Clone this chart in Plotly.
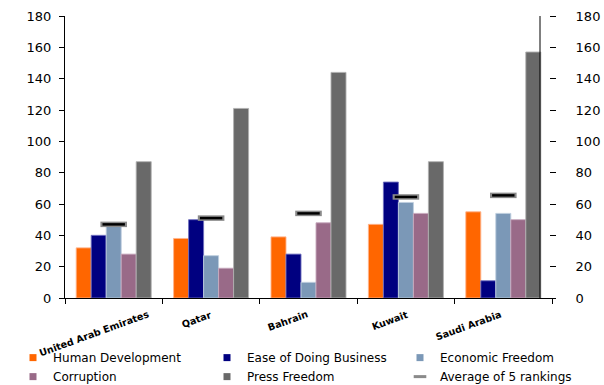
import plotly.graph_objects as go

countries = ["United Arab Emirates", "Qatar", "Bahrain", "Kuwait", "Saudi Arabia"]
human_development = [32, 38, 39, 47, 55]
ease_of_business = [40, 50, 28, 74, 11]
economic_freedom = [47, 27, 10, 61, 54]
corruption = [28, 19, 48, 54, 50]
press_freedom = [87, 121, 144, 87, 157]
average_rankings = [47, 51, 54, 64.5, 65.5]

y_ticks = [0, 20, 40, 60, 80, 100, 120, 140, 160, 180]

series = [
    ("Human Development", human_development, "#FF6600", "rgba(255,180,140,0.9)", "legend"),
    ("Ease of Doing Business", ease_of_business, "#000080", "rgba(110,110,190,0.9)", "legend2"),
    ("Economic Freedom", economic_freedom, "#7B98B7", "rgba(190,205,222,0.9)", "legend3"),
    ("Corruption", corruption, "#996A88", "rgba(200,170,190,0.9)", "legend"),
    ("Press Freedom", press_freedom, "#696969", "rgba(175,175,175,0.9)", "legend2"),
]

FONT = "DejaVu Sans, Verdana, sans-serif"

fig = go.Figure()
for name, vals, col, edge, lg in series:
    fig.add_trace(go.Bar(
        x=countries, y=vals, name=name, showlegend=False, legendgroup=name,
        marker=dict(color=col, line=dict(color=edge, width=1)),
    ))

# average markers (gray border + black core)
fig.add_trace(go.Scatter(
    x=countries, y=average_rankings, mode="markers", showlegend=False,
    legendgroup="avg", yaxis="y2",
    marker=dict(symbol="line-ew", size=19, line=dict(color="#8a8a8a", width=5.5)),
))
fig.add_trace(go.Scatter(
    x=countries, y=average_rankings, mode="markers", showlegend=False,
    legendgroup="avg", yaxis="y2",
    marker=dict(symbol="line-ew", size=16, line=dict(color="#000000", width=2.5)),
))

# legend proxies
for name, vals, col, edge, lg in series:
    fig.add_trace(go.Scatter(
        x=[None], y=[None], mode="markers", name=name, legendgroup=name, legend=lg,
        marker=dict(symbol="square", size=7, color=col, line=dict(width=0)),
    ))
fig.add_trace(go.Scatter(
    x=[None], y=[None], mode="markers", name="Average of 5 rankings",
    legendgroup="avg", legend="legend3",
    marker=dict(symbol="line-ew", size=9, line=dict(color="#8a8a8a", width=3)),
))

annotations = []
shifts = [39, 4, 4, 6, 2]
for c, s in zip(countries, shifts):
    annotations.append(dict(
        x=c, xref="x", y=0, yref="paper", yshift=-8, xshift=s,
        text=c, showarrow=False, textangle=-20,
        xanchor="right", yanchor="top",
        font=dict(family=FONT, size=9.6, color="#000000", weight="bold"),
    ))

leg_common = dict(
    orientation="v", xanchor="left", yanchor="top", y=-0.16,
    font=dict(family=FONT, size=12, color="#000000"),
    bgcolor="rgba(0,0,0,0)", borderwidth=0, traceorder="normal",
)

fig.update_layout(
    width=604, height=385,
    margin=dict(l=65, r=52, t=16, b=87, autoexpand=False),
    paper_bgcolor="#FFFFFF", plot_bgcolor="#FFFFFF",
    barmode="group", bargap=0.23, bargroupgap=0,
    font=dict(family=FONT, size=13, color="#000000"),
    xaxis=dict(
        type="category", range=[-0.5, 4.5], showgrid=False, zeroline=False,
        showline=True, linecolor="#000000", linewidth=1,
        ticks="outside", ticklen=5, tickcolor="#000000", tickson="boundaries",
        showticklabels=False,
    ),
    yaxis=dict(
        range=[0, 180], tickvals=y_ticks, showgrid=False, zeroline=False,
        showline=True, linecolor="#000000", linewidth=1,
        ticks="outside", ticklen=5, tickcolor="#000000",
        tickfont=dict(family=FONT, size=13, color="#000000"),
        ticklabelstandoff=5,
    ),
    yaxis2=dict(
        range=[0, 180], tickvals=y_ticks, overlaying="y", side="right",
        anchor="free", position=(549 - 65) / 487,
        showgrid=False, zeroline=False, showline=False,
        ticks="outside", ticklen=6, tickcolor="#000000",
        tickfont=dict(family=FONT, size=13, color="#000000"),
        ticklabelstandoff=17,
    ),
    legend=dict(x=(13 - 65) / 487, **leg_common),
    legend2=dict(x=(207 - 65) / 487, **leg_common),
    legend3=dict(x=(400 - 65) / 487, **leg_common),
    annotations=annotations,
    shapes=[dict(
        type="line", xref="paper", yref="paper",
        x0=(540 - 65) / 487, x1=(540 - 65) / 487, y0=0, y1=1,
        line=dict(color="#000000", width=1),
    )],
    showlegend=True,
)

fig.write_html(
    "out.html",
    config={"displayModeBar": False},
    post_script="document.body.style.margin='0';document.body.style.overflow='hidden';",
)
